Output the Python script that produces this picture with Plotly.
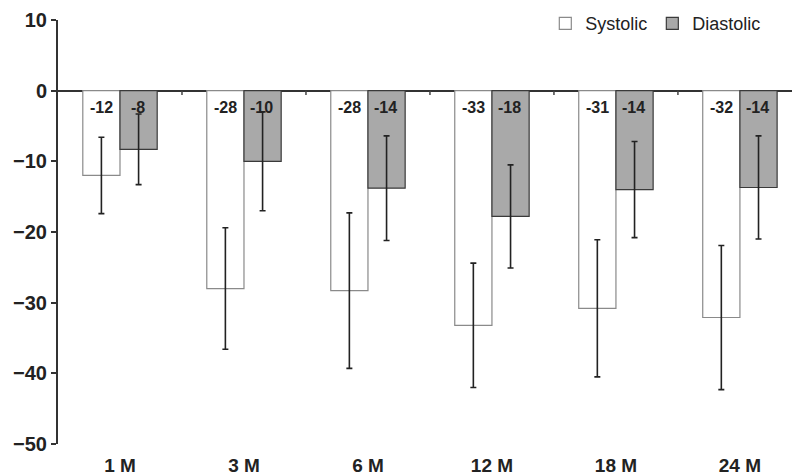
import plotly.graph_objects as go

categories = ["1 M", "3 M", "6 M", "12 M", "18 M", "24 M"]
systolic = [-12, -28, -28.3, -33.2, -30.8, -32.1]
systolic_err = [5.4, 8.6, 11.0, 8.8, 9.7, 10.2]
systolic_labels = ["-12", "-28", "-28", "-33", "-31", "-32"]
diastolic = [-8.3, -10, -13.8, -17.8, -14, -13.7]
diastolic_err = [5.0, 7.0, 7.4, 7.3, 6.8, 7.3]
diastolic_labels = ["-8", "-10", "-14", "-18", "-14", "-14"]

FONT = "Liberation Sans, Arial, sans-serif"

fig = go.Figure()
fig.add_trace(go.Bar(
    name="Systolic", x=categories, y=systolic,
    marker=dict(color="white", line=dict(color="#8a8a8a", width=1.2)),
    error_y=dict(type="data", array=systolic_err, color="#222", thickness=1.6, width=3),
))
fig.add_trace(go.Bar(
    name="Diastolic", x=categories, y=diastolic,
    marker=dict(color="#a9a9a9", line=dict(color="#3a3a3a", width=1.2)),
    error_y=dict(type="data", array=diastolic_err, color="#222", thickness=1.6, width=3),
))

# value labels just below the zero line, inside each bar
for cat, s_lab, d_lab in zip(categories, systolic_labels, diastolic_labels):
    for lab, shift in ((s_lab, -18), (d_lab, 18)):
        fig.add_annotation(x=cat, y=0, text=lab, showarrow=False,
                           xshift=shift, yshift=-17, yanchor="middle",
                           font=dict(family=FONT, size=16, color="#222", weight="bold"))

# small category separator ticks on the zero line
for i in range(len(categories)):
    fig.add_shape(type="line", xref="x", yref="y", x0=i + 0.5, x1=i + 0.5,
                  y0=0, y1=-0.6, line=dict(color="#444", width=1.5))

fig.update_layout(
    width=792, height=476,
    margin=dict(l=58, r=0, t=20, b=32),
    paper_bgcolor="white", plot_bgcolor="white",
    barmode="group", bargap=0.4, bargroupgap=0,
    showlegend=True,
    legend=dict(orientation="h", x=0.965, xanchor="right", y=1.035, yanchor="top",
                font=dict(family=FONT, size=18, color="#222"),
                itemwidth=30, bgcolor="rgba(0,0,0,0)"),
    font=dict(family=FONT, color="#222"),
)
fig.update_xaxes(
    range=[-0.5, 5.42], showgrid=False, showline=False, ticks="",
    tickfont=dict(family=FONT, size=19, color="#222", weight="bold"),
    ticklabelstandoff=8,
)
fig.update_yaxes(
    range=[-50, 10], dtick=10, showgrid=False,
    showline=True, linecolor="#333", linewidth=2,
    ticks="outside", ticklen=5, tickwidth=1.5, tickcolor="#333",
    tickfont=dict(family=FONT, size=20, color="#222", weight="bold"),
    zeroline=True, zerolinecolor="#333", zerolinewidth=2,
)

fig.write_html("out.html", config={"displayModeBar": False},
               post_script="document.body.style.margin='0';document.body.style.overflow='hidden';")
